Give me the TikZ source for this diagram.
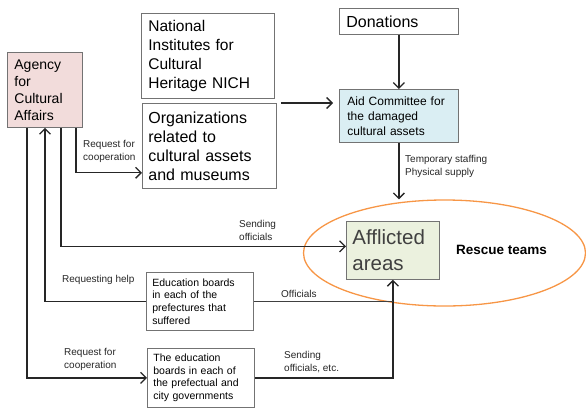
\documentclass[tikz,border=0pt]{standalone}
\usepackage{fontspec}
\setmainfont{Liberation Sans}
\usetikzlibrary{arrows.meta,shapes,positioning}
\definecolor{agencypink}{HTML}{F2DCDB}
\definecolor{aidblue}{HTML}{DAEEF3}
\definecolor{areagreen}{HTML}{EBF1DE}
\definecolor{teamorange}{HTML}{F79646}

\begin{document}
\begin{tikzpicture}[x=1pt, y=-1pt,
  box/.style={draw=black!55, line width=0.8pt, anchor=north west, align=left, inner ysep=2pt},
  lbl/.style={anchor=north west, align=left, inner sep=0pt, text=black!85, font=\fontsize{10}{13}\selectfont},
  conn/.style={draw=black!85, line width=1.3pt},
  >={Straight Barb[length=5.5pt,width=11pt]}]
\useasboundingbox (0,0) rectangle (586,410);

\node[ellipse, draw=teamorange, line width=1.3pt, minimum width=282pt, minimum height=106pt, inner sep=0pt] (rescue) at (444.5,253) {};

\node[box, fill=agencypink, inner xsep=7pt, text width=61pt, minimum width=75pt, minimum height=75pt, font=\fontsize{14}{17}\selectfont] (agency) at (7,52) {Agency\\for\\Cultural\\Affairs};
\node[box, inner xsep=7pt, text width=119pt, minimum width=133pt, minimum height=85pt, font=\fontsize{15.5}{19}\selectfont] (nich) at (141,13) {National\\Institutes for\\Cultural\\Heritage NICH};
\node[box, inner xsep=6pt, text width=122pt, minimum width=134pt, minimum height=85pt, font=\fontsize{16}{19}\selectfont] (org) at (142,103) {Organizations\\related to\\cultural assets\\and museums};
\node[box, inner xsep=7pt, text width=105pt, minimum width=119pt, minimum height=26pt, font=\fontsize{16}{19}\selectfont] (don) at (339,8) {Donations};
\node[box, fill=aidblue, inner xsep=8pt, text width=103pt, minimum width=119pt, minimum height=53pt, font=\fontsize{12}{15}\selectfont] (aid) at (339,89) {Aid Committee for\\the damaged\\cultural assets};
\node[box, fill=areagreen, inner xsep=6pt, text width=81pt, minimum width=93pt, minimum height=58pt, text=black!75, font=\fontsize{20.5}{26}\selectfont] (affl) at (346,221) {Afflicted\\areas};
\node[right=16pt of affl, inner sep=0pt, font=\bfseries\fontsize{13.5}{16}\selectfont] (teams) {Rescue teams};
\node[box, inner xsep=6pt, text width=95pt, minimum width=107pt, minimum height=58pt, font=\fontsize{10.5}{12.7}\selectfont] (edu) at (146,272) {Education boards\\in each of the\\prefectures that\\suffered};
\node[box, inner xsep=6pt, text width=95pt, minimum width=107pt, minimum height=59pt, font=\fontsize{10.5}{12.7}\selectfont] (city) at (147,348) {The education\\boards in each of\\the prefectual and\\city governments};

\draw[conn,->] (don) -- (aid);
\draw[conn,->,shorten <=4pt,shorten >=6pt] (org.north east) -- (aid.west |- org.north);
\draw[conn,->] (aid) -- (aid |- rescue.north);
\draw[conn,->] ([xshift=69pt]agency.south west) |- ([yshift=16pt]org.south west);
\draw[conn,->] ([xshift=54pt]agency.south west) |- ([yshift=4pt]affl.west);
\draw[conn,->] (edu) -| ([xshift=38pt]agency.south west);
\draw[conn,->] ([xshift=20pt]agency.south west) |- (city);
\draw[conn,->] (city) -| (affl);
\draw[draw=black!75, line width=0.6pt] (edu) -- (affl |- edu);

\node[lbl] (coop1) at (83,140) {Request for\\cooperation};
\node[lbl] (supply) at (405,155) {Temporary staffing\\Physical supply};
\node[lbl] (send1) at (239,220) {Sending\\officials};
\node[lbl] (help) at (62,275) {Requesting help};
\node[lbl] (offc) at (281,290) {Officials};
\node[lbl] (coop2) at (64,348) {Request for\\cooperation};
\node[lbl] (send2) at (284,351) {Sending\\officials, etc.};
\end{tikzpicture}
\end{document}
